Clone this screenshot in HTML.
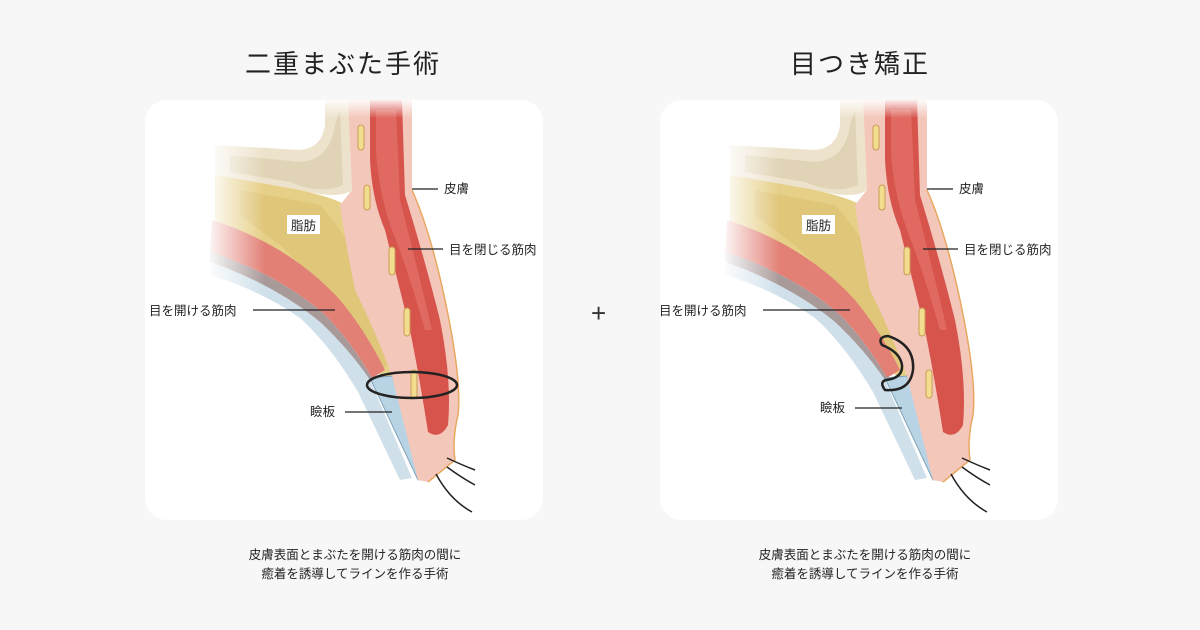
<!DOCTYPE html>
<html><head><meta charset="utf-8"><style>
body{margin:0;width:1200px;height:630px;background:#f7f7f7;font-family:"Liberation Sans","Noto Sans CJK JP",sans-serif;position:relative;overflow:hidden}
.card{position:absolute;top:100px;width:398px;height:420px;background:#fff;border-radius:22px}
.t{position:absolute;font-size:26px;color:#222;letter-spacing:2px;text-align:center;width:400px;top:44px}
.c{position:absolute;font-size:12.5px;color:#222;text-align:center;width:400px;line-height:19px;top:546px}
.plus{position:absolute;left:591px;top:298px;font-size:26px;color:#333}
svg{position:absolute;left:0;top:0}
</style></head><body>
<div class="card" style="left:145px"></div>
<div class="card" style="left:660px"></div>
<div class="t" style="left:143px">二重まぶた手術</div>
<div class="t" style="left:660px">目つき矯正</div>
<div class="c" style="left:155px">皮膚表面とまぶたを開ける筋肉の間に<br>癒着を誘導してラインを作る手術</div>
<div class="c" style="left:665px">皮膚表面とまぶたを開ける筋肉の間に<br>癒着を誘導してラインを作る手術</div>
<div class="plus">+</div>
<svg width="1200" height="630" viewBox="0 0 1200 630">
<defs>
<linearGradient id="fade" x1="0" x2="1" y1="0" y2="0"><stop offset="0" stop-color="#fff" stop-opacity="1"/><stop offset="1" stop-color="#fff" stop-opacity="0"/></linearGradient>
<linearGradient id="fadeT" x1="0" x2="0" y1="0" y2="1"><stop offset="0" stop-color="#fff" stop-opacity=".9"/><stop offset="1" stop-color="#fff" stop-opacity="0"/></linearGradient>
<g id="ill">
<path d="M215,145 L300,150 Q322,148 325,125 L325,100 L348,100 L352,190 Q340,200 300,190 L215,178 Z" fill="#ede3cc"/>
<path d="M230,155 L300,162 Q330,160 335,125 L340,110 L343,185 Q320,195 290,182 L230,172Z" fill="#d9caa6" opacity=".6"/>
<path d="M215,175 L300,190 Q335,198 345,205 Q395,280 412,400 L395,400 Q350,320 290,265 Q250,235 215,222 Z" fill="#e6cf86"/>
<path d="M240,190 L320,205 Q370,260 395,360 L380,370 Q340,300 280,245 L240,215Z" fill="#d9bd6c" opacity=".5"/>
<path d="M212,220 Q290,245 340,300 Q365,330 385,370 L372,378 Q350,340 325,315 Q280,275 210,252 Z" fill="#e28076"/>
<path d="M210,252 Q280,275 325,315 Q350,340 372,378 L368,382 Q345,345 320,322 Q275,285 210,262Z" fill="#a99a9a"/>
<path d="M210,262 Q275,285 320,322 Q350,350 370,380 L412,478 L400,480 L358,392 Q330,345 300,318 Q260,290 210,275Z" fill="#cfe0ea"/>
<path d="M370,378 L392,376 L432,470 L418,480 Z" fill="#b8d3e3" stroke="#7fa2b8" stroke-width="1"/>
<path d="M348,100 L412,100 L412,190 Q430,230 445,300 Q462,380 458,415 Q452,440 455,460 L428,482 L418,480 L392,376 Q375,330 355,290 Q345,240 340,205 L352,190 Z" fill="#f4c7bb"/>
<path d="M412,190 Q430,230 445,300 Q462,380 458,415 Q452,440 455,460 L428,482" fill="none" stroke="#e8a860" stroke-width="1.5"/>
<path d="M370,100 L402,100 L405,195 Q425,260 440,320 Q452,380 448,425 Q440,440 428,432 Q420,380 410,330 Q395,270 385,230 Q372,200 370,160Z" fill="#d7544c"/>
<path d="M376,110 L396,110 L400,200 Q418,270 432,330 L425,330 Q408,270 392,230 Q378,190 376,150Z" fill="#e67a70" opacity=".6"/>
<g fill="#f2dd8f" stroke="#c99b55" stroke-width="1"><rect x="358" y="125" width="6" height="25" rx="3"/><rect x="364" y="185" width="6" height="25" rx="3"/><rect x="389" y="247" width="6" height="28" rx="3"/><rect x="404" y="308" width="6" height="28" rx="3"/><rect x="411" y="370" width="6" height="28" rx="3"/></g>
<g fill="none" stroke="#222" stroke-width="1.5"><path d="M447,458 Q462,465 475,470"/><path d="M447,467 Q462,478 475,485"/><path d="M436,474 Q450,500 472,512"/></g>
<rect x="205" y="100" width="60" height="300" fill="url(#fade)"/>
<rect x="205" y="100" width="260" height="18" fill="url(#fadeT)"/>
</g>
</defs>
<use href="#ill"/>
<use href="#ill" x="515"/>
<g stroke="#222" stroke-width="1.2" fill="none">
<line x1="412" y1="189" x2="438" y2="189"/>
<line x1="408" y1="249" x2="443" y2="249"/>
<line x1="253" y1="310" x2="335" y2="310"/>
<line x1="345" y1="412" x2="392" y2="412"/>
<ellipse cx="412" cy="385" rx="45" ry="13" stroke-width="2.5"/>
<line x1="927" y1="189" x2="953" y2="189"/>
<line x1="923" y1="249" x2="958" y2="249"/>
<line x1="763" y1="310" x2="850" y2="310"/>
<line x1="855" y1="408" x2="902" y2="408"/>
<path d="M882,345 Q877,337 888,336 Q915,345 913,370 Q910,392 885,390 Q879,382 886,380 Q903,378 902,365 Q900,352 882,345Z" stroke-width="2.5"/>
</g>
<g font-size="12.5" fill="#222" font-family="Liberation Sans,Noto Sans CJK JP,sans-serif">
<text x="444" y="193">皮膚</text>
<text x="449" y="254">目を閉じる筋肉</text>
<rect x="287" y="215" width="33" height="19" fill="#fff"/>
<text x="291" y="230">脂肪</text>
<text x="149" y="315">目を開ける筋肉</text>
<text x="310" y="416">瞼板</text>
<text x="959" y="193">皮膚</text>
<text x="964" y="254">目を閉じる筋肉</text>
<rect x="802" y="215" width="33" height="19" fill="#fff"/>
<text x="806" y="230">脂肪</text>
<text x="659" y="315">目を開ける筋肉</text>
<text x="820" y="412">瞼板</text>
</g>
</svg>
</body></html>
